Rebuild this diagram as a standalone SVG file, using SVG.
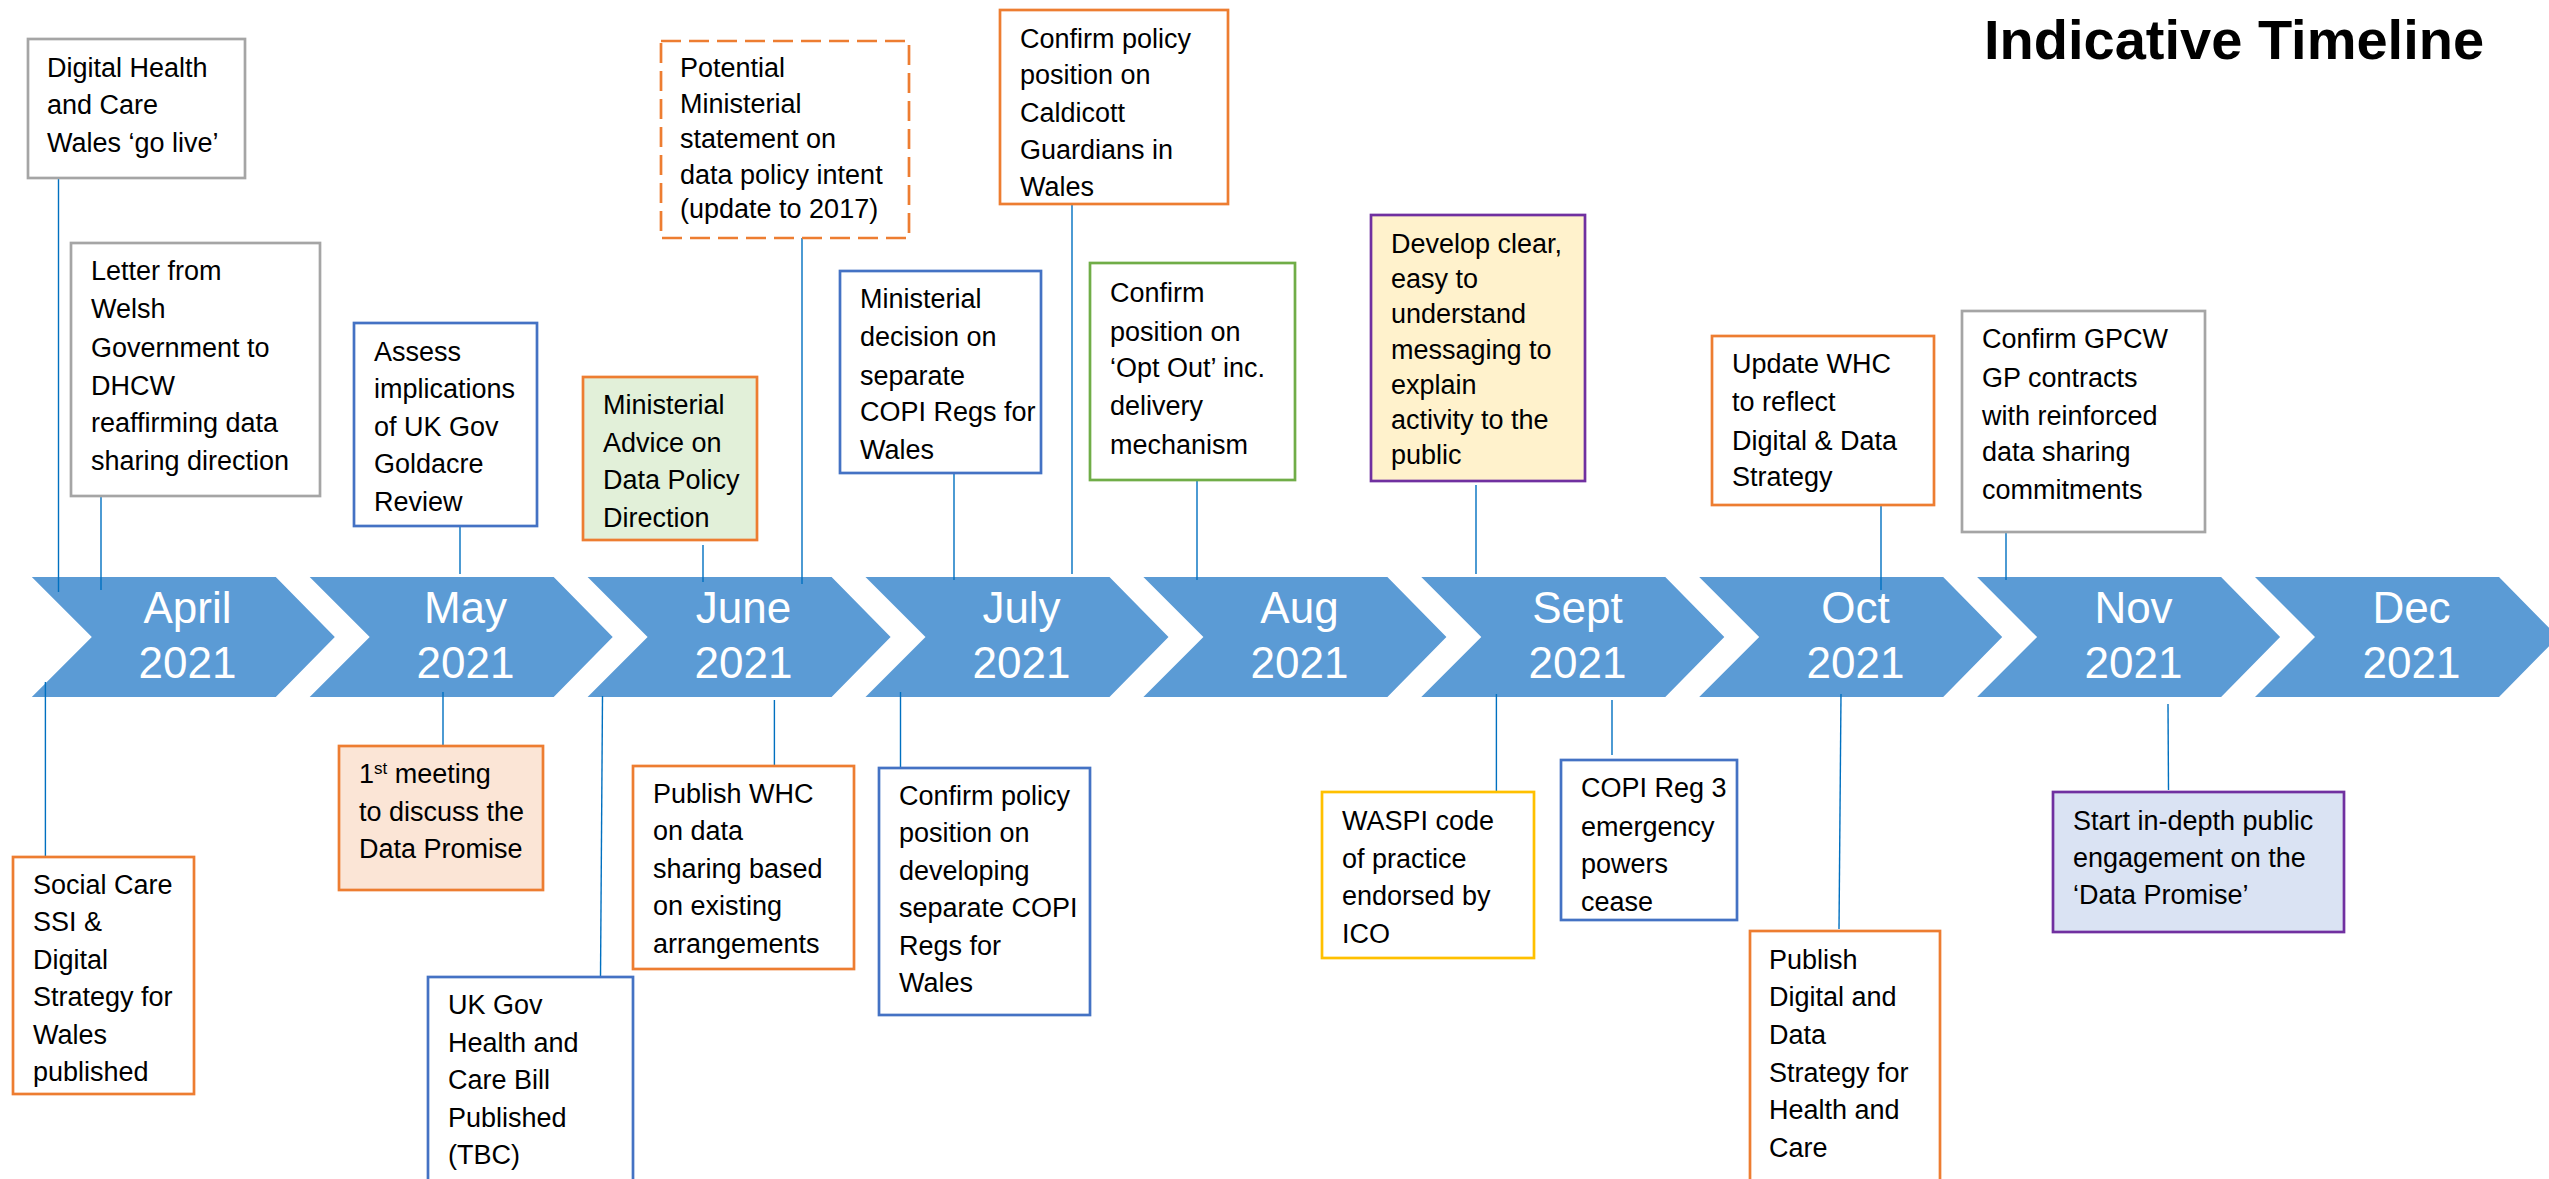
<svg xmlns="http://www.w3.org/2000/svg" width="2549" height="1179" viewBox="0 0 2549 1179">
<style>
.bg{fill:#fff}
.chev{fill:#5B9BD5}
.m{font-family:"Liberation Sans",Arial,sans-serif;font-size:44px;fill:#fff;text-anchor:middle}
.box{fill:#fff;stroke-width:2.7}
.gray{stroke:#A5A5A5}
.blue{stroke:#4472C4}
.orange{stroke:#ED7D31}
.green{stroke:#70AD47}
.purple{stroke:#7030A0}
.gold{stroke:#FFC000}
.dash{stroke-dasharray:20 8}
.t{font-family:"Liberation Sans",Arial,sans-serif;font-size:27px;fill:#000}
.title{font-family:"Liberation Sans",Arial,sans-serif;font-size:56px;font-weight:bold;fill:#000}
.conn line{stroke:#0070C0;stroke-width:1.4;fill:none}
</style>
<rect class="bg" x="0" y="0" width="2549" height="1179"/>
<text class="title" x="1984" y="59">Indicative Timeline</text>

<g id="timeline">
<g id="m-apr"><polygon class="chev" points="31.8,577 275.8,577 334.8,637 275.8,697 31.8,697 91.8,637"/><text class="m" x="187.5" y="623">April</text><text class="m" x="187.5" y="677.5">2021</text></g>
<g id="m-may"><polygon class="chev" points="309.7,577 553.7,577 612.7,637 553.7,697 309.7,697 369.7,637"/><text class="m" x="465.5" y="623">May</text><text class="m" x="465.5" y="677.5">2021</text></g>
<g id="m-jun"><polygon class="chev" points="587.6,577 831.6,577 890.6,637 831.6,697 587.6,697 647.6,637"/><text class="m" x="743.5" y="623">June</text><text class="m" x="743.5" y="677.5">2021</text></g>
<g id="m-jul"><polygon class="chev" points="865.5,577 1109.5,577 1168.5,637 1109.5,697 865.5,697 925.5,637"/><text class="m" x="1021.5" y="623">July</text><text class="m" x="1021.5" y="677.5">2021</text></g>
<g id="m-aug"><polygon class="chev" points="1143.4,577 1387.4,577 1446.4,637 1387.4,697 1143.4,697 1203.4,637"/><text class="m" x="1299.5" y="623">Aug</text><text class="m" x="1299.5" y="677.5">2021</text></g>
<g id="m-sep"><polygon class="chev" points="1421.3,577 1665.3,577 1724.3,637 1665.3,697 1421.3,697 1481.3,637"/><text class="m" x="1577.5" y="623">Sept</text><text class="m" x="1577.5" y="677.5">2021</text></g>
<g id="m-oct"><polygon class="chev" points="1699.2,577 1943.2,577 2002.2,637 1943.2,697 1699.2,697 1759.2,637"/><text class="m" x="1855.5" y="623">Oct</text><text class="m" x="1855.5" y="677.5">2021</text></g>
<g id="m-nov"><polygon class="chev" points="1977.1,577 2221.1,577 2280.1,637 2221.1,697 1977.1,697 2037.1,637"/><text class="m" x="2133.5" y="623">Nov</text><text class="m" x="2133.5" y="677.5">2021</text></g>
<g id="m-dec"><polygon class="chev" points="2255,577 2499,577 2558,637 2499,697 2255,697 2315,637"/><text class="m" x="2411.5" y="623">Dec</text><text class="m" x="2411.5" y="677.5">2021</text></g>
</g>

<g id="connectors" class="conn">
<line x1="58.5" y1="178" x2="58.5" y2="592"/>
<line x1="101" y1="496" x2="101" y2="590"/>
<line x1="460" y1="526" x2="460" y2="574"/>
<line x1="703" y1="545" x2="703" y2="582"/>
<line x1="802" y1="238" x2="802" y2="584"/>
<line x1="954" y1="473" x2="954" y2="580"/>
<line x1="1072" y1="204" x2="1072" y2="574"/>
<line x1="1197" y1="480" x2="1197" y2="580"/>
<line x1="1476" y1="485" x2="1476" y2="574"/>
<line x1="1881" y1="505" x2="1881" y2="590"/>
<line x1="2006" y1="532" x2="2006" y2="580"/>
<line x1="45.4" y1="682" x2="45.4" y2="857"/>
<line x1="443" y1="692" x2="443" y2="746"/>
<line x1="602.5" y1="696" x2="600.5" y2="977"/>
<line x1="774.4" y1="700" x2="774.4" y2="766"/>
<line x1="900.5" y1="692" x2="900.5" y2="768"/>
<line x1="1496.4" y1="694" x2="1496.4" y2="792"/>
<line x1="1612" y1="700" x2="1612" y2="755"/>
<line x1="1841" y1="694" x2="1839" y2="929"/>
<line x1="2168" y1="704" x2="2168.5" y2="790"/>
</g>

<g id="n-dhcw-live"><rect class="box gray" x="28" y="39" width="217" height="139"/>
<text class="t" x="47"><tspan x="47" y="77">Digital Health</tspan><tspan x="47" y="114">and Care</tspan><tspan x="47" y="152">Wales ‘go live’</tspan></text></g>

<g id="n-letter"><rect class="box gray" x="71" y="243" width="249" height="253"/>
<text class="t"><tspan x="91" y="280">Letter from</tspan><tspan x="91" y="318">Welsh</tspan><tspan x="91" y="357">Government to</tspan><tspan x="91" y="395">DHCW</tspan><tspan x="91" y="432">reaffirming data</tspan><tspan x="91" y="470">sharing direction</tspan></text></g>

<g id="n-assess"><rect class="box blue" x="354" y="323" width="183" height="203"/>
<text class="t"><tspan x="374" y="361">Assess</tspan><tspan x="374" y="398">implications</tspan><tspan x="374" y="436">of UK Gov</tspan><tspan x="374" y="473">Goldacre</tspan><tspan x="374" y="511">Review</tspan></text></g>

<g id="n-advice"><rect class="box orange" style="fill:#E2F0D9" x="583" y="377" width="174" height="163"/>
<text class="t"><tspan x="603" y="414">Ministerial</tspan><tspan x="603" y="452">Advice on</tspan><tspan x="603" y="489">Data Policy</tspan><tspan x="603" y="527">Direction</tspan></text></g>

<g id="n-potential"><rect class="box orange dash" x="661" y="41" width="248" height="197"/>
<text class="t"><tspan x="680" y="77">Potential</tspan><tspan x="680" y="112.5">Ministerial</tspan><tspan x="680" y="148">statement on</tspan><tspan x="680" y="184">data policy intent</tspan><tspan x="680" y="218">(update to 2017)</tspan></text></g>

<g id="n-decision"><rect class="box blue" x="840" y="271" width="201" height="202"/>
<text class="t"><tspan x="860" y="308">Ministerial</tspan><tspan x="860" y="346">decision on</tspan><tspan x="860" y="385">separate</tspan><tspan x="860" y="421">COPI Regs for</tspan><tspan x="860" y="459">Wales</tspan></text></g>

<g id="n-caldicott"><rect class="box orange" x="1000" y="10" width="228" height="194"/>
<text class="t"><tspan x="1020" y="48">Confirm policy</tspan><tspan x="1020" y="84">position on</tspan><tspan x="1020" y="122">Caldicott</tspan><tspan x="1020" y="159">Guardians in</tspan><tspan x="1020" y="196">Wales</tspan></text></g>

<g id="n-optout"><rect class="box green" x="1090" y="263" width="205" height="217"/>
<text class="t"><tspan x="1110" y="302">Confirm</tspan><tspan x="1110" y="341">position on</tspan><tspan x="1110" y="377">‘Opt Out’ inc.</tspan><tspan x="1110" y="415">delivery</tspan><tspan x="1110" y="454">mechanism</tspan></text></g>

<g id="n-develop"><rect class="box purple" style="fill:#FFF2CC" x="1371" y="215" width="214" height="266"/>
<text class="t"><tspan x="1391" y="253">Develop clear,</tspan><tspan x="1391" y="288">easy to</tspan><tspan x="1391" y="323">understand</tspan><tspan x="1391" y="359">messaging to</tspan><tspan x="1391" y="394">explain</tspan><tspan x="1391" y="429">activity to the</tspan><tspan x="1391" y="464">public</tspan></text></g>

<g id="n-update-whc"><rect class="box orange" x="1712" y="336" width="222" height="169"/>
<text class="t"><tspan x="1732" y="373">Update WHC</tspan><tspan x="1732" y="411">to reflect</tspan><tspan x="1732" y="450">Digital &amp; Data</tspan><tspan x="1732" y="486">Strategy</tspan></text></g>

<g id="n-gpcw"><rect class="box gray" x="1962" y="311" width="243" height="221"/>
<text class="t"><tspan x="1982" y="348">Confirm GPCW</tspan><tspan x="1982" y="386.5">GP contracts</tspan><tspan x="1982" y="425">with reinforced</tspan><tspan x="1982" y="461">data sharing</tspan><tspan x="1982" y="499">commitments</tspan></text></g>

<g id="n-social"><rect class="box orange" x="13" y="857" width="181" height="237"/>
<text class="t"><tspan x="33" y="894">Social Care</tspan><tspan x="33" y="931">SSI &amp;</tspan><tspan x="33" y="969">Digital</tspan><tspan x="33" y="1006">Strategy for</tspan><tspan x="33" y="1044">Wales</tspan><tspan x="33" y="1081">published</tspan></text></g>

<g id="n-meeting"><rect class="box orange" style="fill:#FBE5D6" x="339" y="746" width="204" height="144"/>
<text class="t"><tspan x="359" y="783">1<tspan style="font-size:17px" baseline-shift="super">st</tspan> meeting</tspan><tspan x="359" y="821">to discuss the</tspan><tspan x="359" y="858">Data Promise</tspan></text></g>

<g id="n-ukgov"><rect class="box blue" x="428" y="977" width="205" height="205"/>
<text class="t"><tspan x="448" y="1014">UK Gov</tspan><tspan x="448" y="1052">Health and</tspan><tspan x="448" y="1089">Care Bill</tspan><tspan x="448" y="1127">Published</tspan><tspan x="448" y="1164">(TBC)</tspan></text></g>

<g id="n-publish-whc"><rect class="box orange" x="633" y="766" width="221" height="203"/>
<text class="t"><tspan x="653" y="803">Publish WHC</tspan><tspan x="653" y="840">on data</tspan><tspan x="653" y="878">sharing based</tspan><tspan x="653" y="915">on existing</tspan><tspan x="653" y="953">arrangements</tspan></text></g>

<g id="n-developing"><rect class="box blue" x="879" y="768" width="211" height="247"/>
<text class="t"><tspan x="899" y="805">Confirm policy</tspan><tspan x="899" y="842">position on</tspan><tspan x="899" y="880">developing</tspan><tspan x="899" y="917">separate COPI</tspan><tspan x="899" y="955">Regs for</tspan><tspan x="899" y="992">Wales</tspan></text></g>

<g id="n-waspi"><rect class="box gold" x="1322" y="792" width="212" height="166"/>
<text class="t"><tspan x="1342" y="830">WASPI code</tspan><tspan x="1342" y="868">of practice</tspan><tspan x="1342" y="905">endorsed by</tspan><tspan x="1342" y="943">ICO</tspan></text></g>

<g id="n-copi3"><rect class="box blue" x="1561" y="760" width="176" height="160"/>
<text class="t"><tspan x="1581" y="797">COPI Reg 3</tspan><tspan x="1581" y="836">emergency</tspan><tspan x="1581" y="873">powers</tspan><tspan x="1581" y="911">cease</tspan></text></g>

<g id="n-publish-dds"><rect class="box orange" x="1750" y="931" width="190" height="251"/>
<text class="t"><tspan x="1769" y="969">Publish</tspan><tspan x="1769" y="1006">Digital and</tspan><tspan x="1769" y="1044">Data</tspan><tspan x="1769" y="1082">Strategy for</tspan><tspan x="1769" y="1119">Health and</tspan><tspan x="1769" y="1157">Care</tspan></text></g>

<g id="n-engagement"><rect class="box purple" style="fill:#DAE3F3" x="2053" y="792" width="291" height="140"/>
<text class="t"><tspan x="2073" y="830">Start in-depth public</tspan><tspan x="2073" y="867">engagement on the</tspan><tspan x="2073" y="904">‘Data Promise’</tspan></text></g>
</svg>
